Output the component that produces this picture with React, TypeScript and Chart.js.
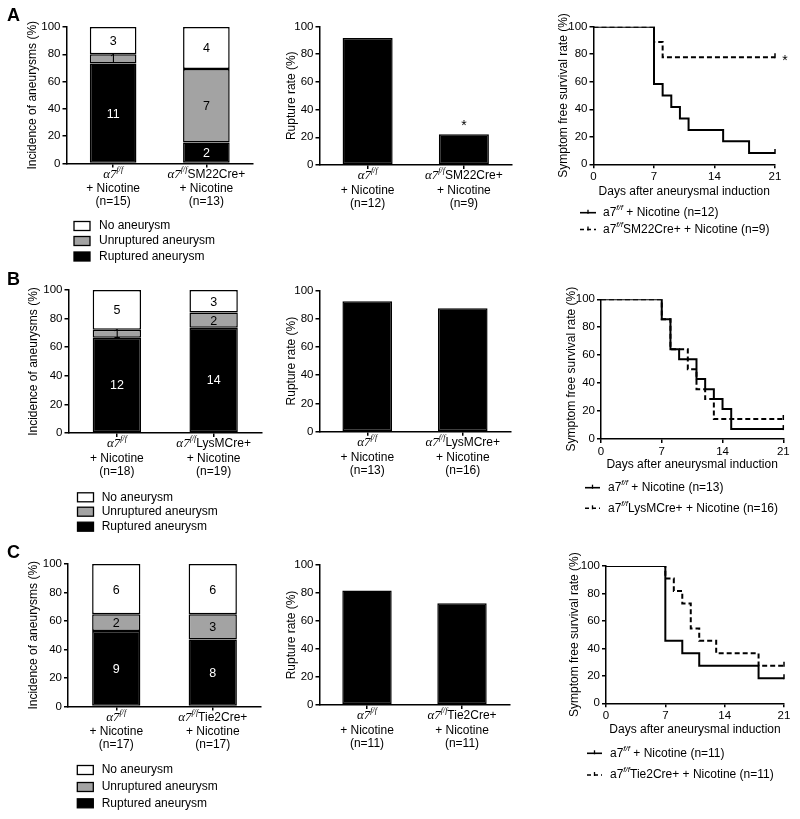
import React, { useEffect, useRef } from 'react';
import { Chart, registerables } from 'chart.js';
Chart.register(...registerables);

const SANS = '"Liberation Sans", Arial, Helvetica, sans-serif';
const SERIF = '"Liberation Serif", "Times New Roman", serif';
const GRAY = '#a3a3a3';

// ---------------- DATA ----------------
// Panel A
const groupsA = ['α7{f/f}', 'α7{f/f}SM22Cre+'];
const incidenceNA = [15, 13];
const rupturedA = [11, 2];
const unrupturedA = [1, 7];
const noAneurysmA = [3, 4];
const ruptureRateA = [91.7, 22.2];
const ruptureNA = [12, 9];
const ruptureStarA = ['', '*'];
const survCtrlDaysA = [0, 7, 8, 9, 10, 11, 15, 18, 21];
const survCtrlA = [100, 58.3, 50, 41.7, 33.3, 25, 16.7, 8.3, 8.3];
const survKoDaysA = [0, 7, 8, 21];
const survKoA = [100, 88.9, 77.8, 77.8];
const survLabelsA = ['a7{f/f} + Nicotine (n=12)', 'a7{f/f}SM22Cre+ + Nicotine (n=9)'];
const survStarA = '*';

// Panel B
const groupsB = ['α7{f/f}', 'α7{f/f}LysMCre+'];
const incidenceNB = [18, 19];
const rupturedB = [12, 14];
const unrupturedB = [1, 2];
const noAneurysmB = [5, 3];
const ruptureRateB = [92.3, 87.5];
const ruptureNB = [13, 16];
const ruptureStarB = ['', ''];
const survCtrlDaysB = [0, 7, 8, 9, 11, 12, 13, 14, 15, 21];
const survCtrlB = [100, 85.7, 64.3, 57.1, 42.9, 35.7, 28.6, 21.4, 7.1, 7.1];
const survKoDaysB = [0, 7, 8, 10, 11, 12, 13, 21];
const survKoB = [100, 85.7, 64.3, 50, 35.7, 28.6, 14.3, 14.3];
const survLabelsB = ['a7{f/f} + Nicotine (n=13)', 'a7{f/f}LysMCre+ + Nicotine (n=16)'];
const survStarB = '';

// Panel C
const groupsC = ['α7{f/f}', 'α7{f/f}Tie2Cre+'];
const incidenceNC = [17, 17];
const rupturedC = [9, 8];
const unrupturedC = [2, 3];
const noAneurysmC = [6, 6];
const ruptureRateC = [81.8, 72.7];
const ruptureNC = [11, 11];
const ruptureStarC = ['', ''];
const survCtrlDaysC = [0, 7, 9, 11, 18, 21];
const survCtrlC = [100, 45.5, 36.4, 27.3, 18.2, 18.2];
const survKoDaysC = [0, 7, 8, 9, 10, 11, 13, 18, 21];
const survKoC = [100, 90.9, 81.8, 72.7, 54.5, 45.5, 36.4, 27.3, 27.3];
const survLabelsC = ['a7{f/f} + Nicotine (n=11)', 'a7{f/f}Tie2Cre+ + Nicotine (n=11)'];
const survStarC = '';

const stackedLegend = ['No aneurysm', 'Unruptured aneurysm', 'Ruptured aneurysm'];
const survDays = ['0', '7', '14', '21'];

// ---------------- HELPERS ----------------
type Rect = { x: number; y: number; w: number; h: number };
type Plot = { L: number; T: number; R: number; B: number };

function parseRich(s: string, size: number, serifGreek: boolean) {
  const out: { t: string; font: string; dy: number; w?: number }[] = [];
  const parts = s.split(/(\{[^}]*\})/);
  for (const p of parts) {
    if (!p) continue;
    if (p.startsWith('{')) {
      out.push({ t: p.slice(1, -1), font: `italic ${Math.round(size * 0.66)}px ${serifGreek ? SERIF : SANS}`, dy: -size * 0.4 });
    } else if (serifGreek && p.startsWith('α')) {
      out.push({ t: p.slice(0, 2), font: `italic ${size + 1}px ${SERIF}`, dy: 0 });
      if (p.length > 2) out.push({ t: p.slice(2), font: `${size}px ${SANS}`, dy: 0 });
    } else {
      out.push({ t: p, font: `${size}px ${SANS}`, dy: 0 });
    }
  }
  return out;
}

function drawRich(ctx: CanvasRenderingContext2D, s: string, x: number, y: number, align: string, size: number, serifGreek: boolean) {
  const segs = parseRich(s, size, serifGreek);
  ctx.save();
  ctx.fillStyle = '#000';
  ctx.textBaseline = 'middle';
  ctx.textAlign = 'left';
  let w = 0;
  for (const sg of segs) {
    ctx.font = sg.font;
    sg.w = ctx.measureText(sg.t).width;
    w += sg.w;
  }
  let cx = align === 'center' ? x - w / 2 : align === 'right' ? x - w : x;
  for (const sg of segs) {
    ctx.font = sg.font;
    ctx.fillText(sg.t, cx, y + sg.dy);
    cx += sg.w || 0;
  }
  ctx.restore();
}

function drawStar(ctx: CanvasRenderingContext2D, s: string, x: number, cy: number) {
  if (!s) return;
  ctx.save();
  ctx.fillStyle = '#000';
  ctx.font = `14px ${SANS}`;
  ctx.textAlign = 'center';
  ctx.textBaseline = 'alphabetic';
  ctx.fillText(s, x, cy + 0.57 * 14);
  ctx.restore();
}

function geometry(rect: Rect, plot: Plot, yTitleX: number, xTitleY?: number) {
  const TH = 14.4 / 2;
  const padLeft = yTitleX - TH - rect.x;
  const yW = plot.L - rect.x - padLeft;
  const padTop = plot.T - rect.y;
  const padRight = rect.x + rect.w - plot.R;
  let xH: number, padBottom: number;
  if (xTitleY !== undefined) {
    xH = xTitleY + TH - plot.B;
    padBottom = rect.y + rect.h - (xTitleY + TH);
  } else {
    xH = rect.y + rect.h - plot.B;
    padBottom = 0;
  }
  return { padding: { left: padLeft, top: padTop, right: padRight, bottom: padBottom }, yW, xH };
}

const gridOpts = (offset = false) => ({
  display: true,
  drawOnChartArea: false,
  drawTicks: true,
  tickLength: 4,
  offset,
  color: '#000',
  lineWidth: 1.5,
});
const borderOpts = { display: true, color: '#000', width: 1.5 };
const tickFont = { size: 11.5, family: SANS };
const titleFont = { size: 12, family: SANS };

function yAxis(title: string, yW: number) {
  return {
    min: 0,
    max: 100,
    ticks: { stepSize: 20, color: '#000', font: tickFont, padding: 2 },
    grid: gridOpts(),
    border: borderOpts,
    title: { display: true, text: title, color: '#000', font: titleFont, padding: 0 },
    afterFit: (s: any) => { s.width = yW; },
  };
}

function drawXLabels(chart: any, groups: string[], ns: number[], plotB: number, rect: Rect) {
  const ctx = chart.ctx;
  const xs = chart.scales.x;
  const b = plotB - rect.y;
  groups.forEach((g, i) => {
    const x = xs.getPixelForValue(i);
    drawRich(ctx, g, x, b + 11, 'center', 12, true);
    drawRich(ctx, '+ Nicotine', x, b + 25.5, 'center', 12, false);
    drawRich(ctx, `(n=${ns[i]})`, x, b + 38.5, 'center', 12, false);
  });
}

// ---------------- CHART BUILDERS ----------------
type StackedP = {
  rect: Rect; plot: Plot; yTitleX: number; letter: string; letterPos: [number, number];
  groups: string[]; n: number[]; ruptured: number[]; unruptured: number[]; none: number[];
  legendBoxX: number; legendTextX: number; legendRows: number[];
};

function buildStacked(p: StackedP) {
  const g = geometry(p.rect, p.plot, p.yTitleX);
  const pct = (arr: number[]) => arr.map((v, i) => (v / p.n[i]) * 100);
  const datasets: any[] = [
    { label: stackedLegend[2], data: pct(p.ruptured), counts: p.ruptured, backgroundColor: '#000', txt: '#fff' },
    { label: stackedLegend[1], data: pct(p.unruptured), counts: p.unruptured, backgroundColor: GRAY, txt: '#000' },
    { label: stackedLegend[0], data: pct(p.none), counts: p.none, backgroundColor: '#fff', txt: '#000' },
  ].map((d) => ({ ...d, borderColor: '#000', borderWidth: 1.5, borderSkipped: false, barPercentage: 0.5, categoryPercentage: 1 }));

  const plugin = {
    id: 'stackedExtras',
    afterDraw(chart: any) {
      const ctx = chart.ctx;
      chart.data.datasets.forEach((ds: any, di: number) => {
        const meta = chart.getDatasetMeta(di);
        meta.data.forEach((el: any, i: number) => {
          ctx.save();
          ctx.fillStyle = ds.txt;
          ctx.font = `12.5px ${SANS}`;
          ctx.textAlign = 'center';
          ctx.textBaseline = 'middle';
          ctx.fillText(String(ds.counts[i]), el.x, (el.y + el.base) / 2 + 1);
          ctx.restore();
        });
      });
      drawXLabels(chart, p.groups, p.n, p.plot.B, p.rect);
      const order = [2, 1, 0];
      order.forEach((di, r) => {
        const ds = chart.data.datasets[di];
        const y = p.legendRows[r] - p.rect.y;
        const x = p.legendBoxX - p.rect.x;
        ctx.save();
        ctx.fillStyle = ds.backgroundColor;
        ctx.strokeStyle = '#000';
        ctx.lineWidth = 1.3;
        ctx.fillRect(x, y - 4.5, 16, 9);
        ctx.strokeRect(x, y - 4.5, 16, 9);
        ctx.restore();
        drawRich(ctx, ds.label, p.legendTextX - p.rect.x, y, 'left', 12, false);
      });
      ctx.save();
      ctx.fillStyle = '#000';
      ctx.font = `bold 18px ${SANS}`;
      ctx.textBaseline = 'alphabetic';
      ctx.textAlign = 'left';
      ctx.fillText(p.letter, p.letterPos[0] - p.rect.x, p.letterPos[1] - p.rect.y);
      ctx.restore();
    },
  };

  return {
    type: 'bar',
    data: { labels: p.groups, datasets },
    options: {
      animation: false,
      responsive: false,
      events: [],
      layout: { padding: g.padding },
      plugins: { legend: { display: false }, tooltip: { enabled: false } },
      scales: {
        x: {
          stacked: true,
          grid: gridOpts(false),
          border: borderOpts,
          ticks: { display: false },
          afterFit: (s: any) => { s.height = g.xH; },
        },
        y: { ...yAxis('Incidence of aneurysms (%)', g.yW), stacked: true },
      },
    },
    plugins: [plugin],
  };
}

type RuptureP = { rect: Rect; plot: Plot; yTitleX: number; groups: string[]; n: number[]; rate: number[]; stars: string[] };

function buildRupture(p: RuptureP) {
  const g = geometry(p.rect, p.plot, p.yTitleX);
  const plugin = {
    id: 'ruptureExtras',
    afterDraw(chart: any) {
      const ctx = chart.ctx;
      drawXLabels(chart, p.groups, p.n, p.plot.B, p.rect);
      const meta = chart.getDatasetMeta(0);
      meta.data.forEach((el: any, i: number) => drawStar(ctx, p.stars[i], el.x, el.y - 12));
    },
  };
  return {
    type: 'bar',
    data: {
      labels: p.groups,
      datasets: [{
        label: 'Rupture rate', data: p.rate, backgroundColor: '#000', borderColor: '#000', borderWidth: 1.5,
        borderSkipped: false, barPercentage: 0.52, categoryPercentage: 1,
      }],
    },
    options: {
      animation: false,
      responsive: false,
      events: [],
      layout: { padding: g.padding },
      plugins: { legend: { display: false }, tooltip: { enabled: false } },
      scales: {
        x: {
          grid: gridOpts(false),
          border: borderOpts,
          ticks: { display: false },
          afterFit: (s: any) => { s.height = g.xH; },
        },
        y: yAxis('Rupture rate (%)', g.yW),
      },
    },
    plugins: [plugin],
  };
}

type SurvP = {
  rect: Rect; plot: Plot; yTitleX: number; xTitleY: number;
  ctrlDays: number[]; ctrl: number[]; koDays: number[]; ko: number[]; labels: string[]; star: string;
  legendRows: number[]; sampleX: [number, number]; legendTextX: number;
};

function buildSurv(p: SurvP) {
  const g = geometry(p.rect, p.plot, p.yTitleX, p.xTitleY);
  const mk = (days: number[], vals: number[], label: string, dash: number[]) => ({
    label,
    data: days.map((d, i) => ({ x: d, y: vals[i] })),
    borderColor: '#000',
    backgroundColor: '#000',
    borderWidth: 2,
    borderDash: dash,
    stepped: true,
    fill: false,
    pointRadius: 0,
    pointHoverRadius: 0,
  });
  const plugin = {
    id: 'survExtras',
    afterDraw(chart: any) {
      const ctx = chart.ctx;
      chart.data.datasets.forEach((ds: any, di: number) => {
        // censor tick at the last point
        const meta = chart.getDatasetMeta(di);
        const last = meta.data[meta.data.length - 1];
        if (last) {
          ctx.save();
          ctx.strokeStyle = '#000';
          ctx.lineWidth = 1.5;
          ctx.beginPath();
          ctx.moveTo(last.x, last.y + 1);
          ctx.lineTo(last.x, last.y - 4);
          ctx.stroke();
          ctx.restore();
        }
        const y = p.legendRows[di] - p.rect.y;
        const x0 = p.sampleX[0] - p.rect.x;
        const x1 = p.sampleX[1] - p.rect.x;
        ctx.save();
        ctx.strokeStyle = '#000';
        ctx.lineWidth = 1.6;
        ctx.setLineDash(ds.borderDash && ds.borderDash.length ? [4, 3] : []);
        ctx.beginPath();
        ctx.moveTo(x0, y);
        ctx.lineTo(x1, y);
        ctx.stroke();
        ctx.setLineDash([]);
        ctx.lineWidth = 1.3;
        ctx.beginPath();
        ctx.moveTo((x0 + x1) / 2, y - 3);
        ctx.lineTo((x0 + x1) / 2, y + 1);
        ctx.stroke();
        ctx.restore();
        drawRich(ctx, ds.label, p.legendTextX - p.rect.x, y, 'left', 12, false);
      });
      if (p.star) {
        const ys = chart.scales.y;
        const lastV = p.ko[p.ko.length - 1];
        drawStar(ctx, p.star, chart.chartArea.right + 10, ys.getPixelForValue(lastV));
      }
    },
  };
  return {
    type: 'line',
    data: {
      datasets: [mk(p.ctrlDays, p.ctrl, p.labels[0], []), mk(p.koDays, p.ko, p.labels[1], [5, 3])],
    },
    options: {
      animation: false,
      responsive: false,
      events: [],
      layout: { padding: g.padding },
      plugins: { legend: { display: false }, tooltip: { enabled: false } },
      scales: {
        x: {
          type: 'linear',
          min: 0,
          max: 21,
          ticks: { stepSize: 7, color: '#000', font: tickFont, padding: 2, callback: (v: any) => (survDays.includes(String(v)) ? String(v) : '') },
          grid: gridOpts(),
          border: borderOpts,
          title: { display: true, text: 'Days after aneurysmal induction', color: '#000', font: titleFont, padding: 0 },
          afterFit: (s: any) => { s.height = g.xH; },
        },
        y: yAxis('Symptom free survival rate (%)', g.yW),
      },
    },
    plugins: [plugin],
  };
}

// ---------------- PANEL CONFIGS ----------------
const rowA = { y: 0, h: 268 };
const rowB = { y: 268, h: 272 };
const rowC = { y: 540, h: 279 };

const stackedPanels: StackedP[] = [
  {
    rect: { x: 0, y: rowA.y, w: 270, h: rowA.h }, plot: { L: 66.5, T: 27, R: 253, B: 163.5 }, yTitleX: 33,
    letter: 'A', letterPos: [7, 21], groups: groupsA, n: incidenceNA, ruptured: rupturedA, unruptured: unrupturedA, none: noAneurysmA,
    legendBoxX: 74, legendTextX: 99, legendRows: [226, 241, 256.5],
  },
  {
    rect: { x: 0, y: rowB.y, w: 270, h: rowB.h }, plot: { L: 68.5, T: 290, R: 262, B: 433 }, yTitleX: 33.3,
    letter: 'B', letterPos: [7, 285], groups: groupsB, n: incidenceNB, ruptured: rupturedB, unruptured: unrupturedB, none: noAneurysmB,
    legendBoxX: 77.5, legendTextX: 101.7, legendRows: [497.3, 511.7, 526.7],
  },
  {
    rect: { x: 0, y: rowC.y, w: 270, h: rowC.h }, plot: { L: 68, T: 564, R: 261, B: 706.5 }, yTitleX: 33.3,
    letter: 'C', letterPos: [7, 558], groups: groupsC, n: incidenceNC, ruptured: rupturedC, unruptured: unrupturedC, none: noAneurysmC,
    legendBoxX: 77.3, legendTextX: 101.7, legendRows: [770, 787, 803.3],
  },
];

const rupturePanels: RuptureP[] = [
  { rect: { x: 270, y: rowA.y, w: 260, h: rowA.h }, plot: { L: 319.5, T: 26.5, R: 512, B: 165 }, yTitleX: 292, groups: groupsA, n: ruptureNA, rate: ruptureRateA, stars: ruptureStarA },
  { rect: { x: 270, y: rowB.y, w: 260, h: rowB.h }, plot: { L: 319.5, T: 290.5, R: 510.5, B: 431.7 }, yTitleX: 292, groups: groupsB, n: ruptureNB, rate: ruptureRateB, stars: ruptureStarB },
  { rect: { x: 270, y: rowC.y, w: 260, h: rowC.h }, plot: { L: 319.5, T: 565, R: 509.5, B: 705 }, yTitleX: 292, groups: groupsC, n: ruptureNC, rate: ruptureRateC, stars: ruptureStarC },
];

const survPanels: SurvP[] = [
  {
    rect: { x: 530, y: rowA.y, w: 270, h: rowA.h }, plot: { L: 593.5, T: 26.7, R: 775, B: 164.3 }, yTitleX: 563.5, xTitleY: 191.7,
    ctrlDays: survCtrlDaysA, ctrl: survCtrlA, koDays: survKoDaysA, ko: survKoA, labels: survLabelsA, star: survStarA,
    legendRows: [212.7, 229.5], sampleX: [580, 596], legendTextX: 603,
  },
  {
    rect: { x: 530, y: rowB.y, w: 270, h: rowB.h }, plot: { L: 601, T: 299.3, R: 783.3, B: 439 }, yTitleX: 571.7, xTitleY: 465,
    ctrlDays: survCtrlDaysB, ctrl: survCtrlB, koDays: survKoDaysB, ko: survKoB, labels: survLabelsB, star: survStarB,
    legendRows: [487.7, 508.3], sampleX: [585, 600], legendTextX: 608,
  },
  {
    rect: { x: 530, y: rowC.y, w: 270, h: rowC.h }, plot: { L: 606, T: 566, R: 784, B: 703.3 }, yTitleX: 575, xTitleY: 730,
    ctrlDays: survCtrlDaysC, ctrl: survCtrlC, koDays: survKoDaysC, ko: survKoC, labels: survLabelsC, star: survStarC,
    legendRows: [753.3, 775], sampleX: [587, 602], legendTextX: 610,
  },
];

// ---------------- COMPONENTS ----------------
function ChartBox({ rect, build }: { rect: Rect; build: () => any }) {
  const ref = useRef<HTMLCanvasElement | null>(null);
  useEffect(() => {
    if (!ref.current) return;
    const chart = new Chart(ref.current, build());
    return () => chart.destroy();
  }, []);
  return (
    <canvas
      ref={ref}
      width={rect.w}
      height={rect.h}
      style={{ position: 'absolute', left: rect.x, top: rect.y, width: rect.w, height: rect.h, display: 'block' }}
    />
  );
}

export default function App() {
  Chart.defaults.font.family = SANS;
  Chart.defaults.color = '#000';
  return (
    <div style={{ position: 'absolute', left: 0, top: 0, width: 800, height: 819, background: '#fff', overflow: 'hidden' }}>
      {stackedPanels.map((p, i) => (
        <ChartBox key={'s' + i} rect={p.rect} build={() => buildStacked(p)} />
      ))}
      {rupturePanels.map((p, i) => (
        <ChartBox key={'r' + i} rect={p.rect} build={() => buildRupture(p)} />
      ))}
      {survPanels.map((p, i) => (
        <ChartBox key={'k' + i} rect={p.rect} build={() => buildSurv(p)} />
      ))}
    </div>
  );
}
